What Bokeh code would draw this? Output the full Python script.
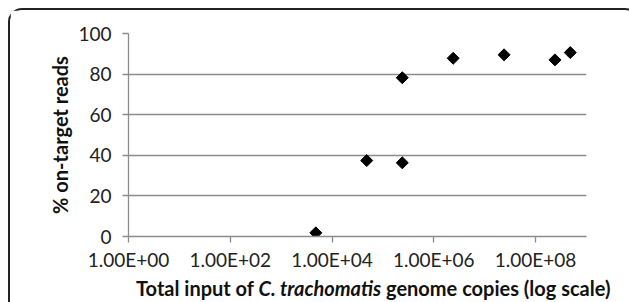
import math
from bokeh.plotting import figure
from bokeh.models import Range1d, FixedTicker, Div
from bokeh.layouts import column
from bokeh.embed import file_html
from bokeh.resources import INLINE

# data
genome_copies = [4.8e3, 4.8e4, 2.4e5, 2.4e5, 2.4e6, 2.4e7, 2.4e8, 4.8e8]
on_target_pct = [1.8, 37.4, 36.3, 78.2, 87.8, 89.5, 87.0, 90.6]

x_tick_values = [1, 100, 10000, 1000000, 100000000]
x_tick_labels = ["1.00E+00", "1.00E+02", "1.00E+04", "1.00E+06", "1.00E+08"]
y_tick_values = [0, 20, 40, 60, 80, 100]

FONT = "Lato"
GRAY = "#8c8c8c"
TICK_FS = "19px"
TITLE_FS = "20px"

p = figure(width=617, height=263, x_axis_type="log",
           x_range=Range1d(1, 1e9), y_range=Range1d(0, 100),
           output_backend="svg", toolbar_location=None,
           min_border_left=118, min_border_right=41,
           min_border_top=23, min_border_bottom=35,
           background_fill_color="white", border_fill_color="white")
p.outline_line_color = None

p.xaxis.ticker = FixedTicker(ticks=x_tick_values, minor_ticks=[])
p.xaxis.major_label_overrides = dict(zip(x_tick_values, x_tick_labels))
p.yaxis.ticker = FixedTicker(ticks=y_tick_values, minor_ticks=[])

for ax in (p.xaxis, p.yaxis):
    ax.axis_line_color = GRAY
    ax.axis_line_width = 1.3
    ax.major_tick_line_color = GRAY
    ax.major_tick_line_width = 1.3
    ax.major_tick_in = 0
    ax.major_tick_out = 6
    ax.minor_tick_line_color = None
    ax.major_label_text_font = FONT
    ax.major_label_text_font_size = TICK_FS
    ax.major_label_text_color = "#222"
p.yaxis.major_label_standoff = 11
p.xaxis.major_label_standoff = 5

p.yaxis.axis_label = "% on-target reads"
p.yaxis.axis_label_text_font = FONT
p.yaxis.axis_label_text_font_style = "bold"
p.yaxis.axis_label_text_font_size = TITLE_FS
p.yaxis.axis_label_text_color = "#111"
p.yaxis.axis_label_standoff = 3

p.xgrid.grid_line_color = None
p.ygrid.grid_line_color = GRAY
p.ygrid.grid_line_width = 1.3

p.scatter(genome_copies, on_target_pct, marker="square", size=8.5,
          angle=math.pi / 4, fill_color="black", line_color="black")

x_title = Div(text="<b>Total input of <i>C. trachomatis</i> genome copies (log scale)</b>",
              width=617, height=22,
              styles={"font-family": FONT, "font-size": TITLE_FS, "color": "#111",
                      "padding-left": "121px", "line-height": "20px"})

layout = column(p, x_title, spacing=0,
                styles={"margin-left": "8px", "margin-top": "8px",
                        "border-top": "2px solid #222",
                        "border-left": "2px solid #222",
                        "border-right": "2px solid #222",
                        "border-top-left-radius": "14px",
                        "border-top-right-radius": "14px"})

open("out.html", "w").write(file_html(layout, INLINE))
